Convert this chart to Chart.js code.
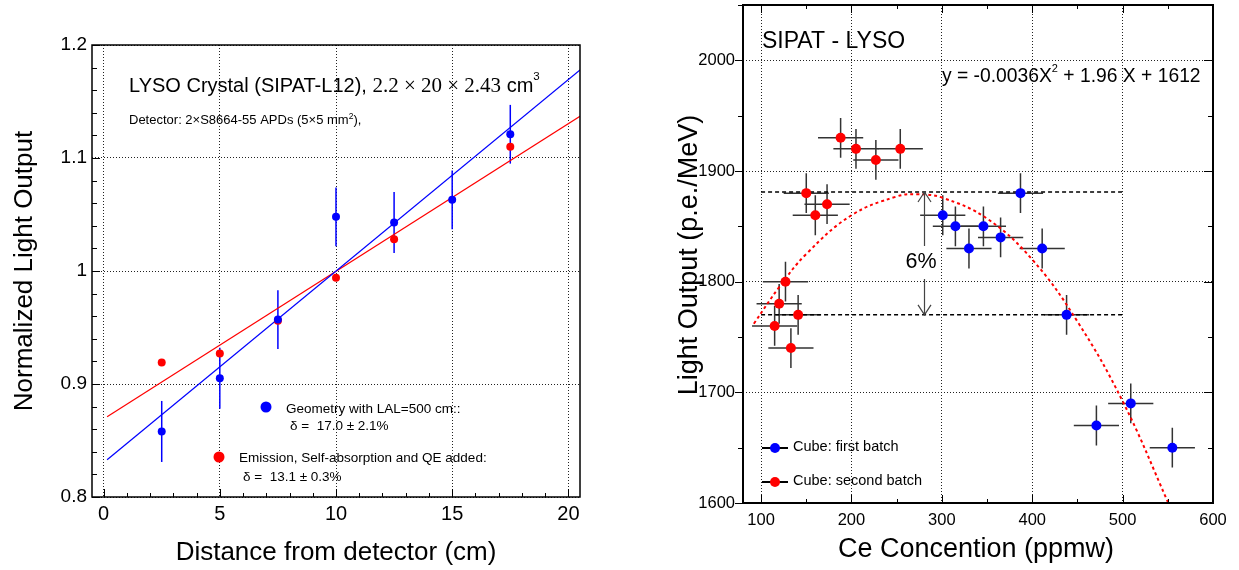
<!DOCTYPE html>
<html>
<head>
<meta charset="utf-8">
<script src="https://cdn.jsdelivr.net/npm/chart.js@4"></script>
<style>
  body { margin: 0; background: #fff; width: 1239px; height: 570px; overflow: hidden; position: relative; }
  .box { position: absolute; top: 0; height: 570px; }
</style>
</head>
<body>
<div class="box" style="left:0;width:620px"><canvas id="left" width="620" height="570"></canvas></div>
<div class="box" style="left:620px;width:619px"><canvas id="right" width="619" height="570"></canvas></div>
<script>
const SANS = '"Liberation Sans", Arial, sans-serif';
const SERIF = '"Liberation Serif", "Times New Roman", serif';

// --- panel izquierdo: light output vs distancia ---
const distCm    = [2.5, 5, 7.5, 10, 12.5, 15, 17.5];
const geomLO    = [0.858, 0.905, 0.957, 1.048, 1.043, 1.063, 1.121];
const geomErr   = [0.027, 0.027, 0.026, 0.026, 0.027, 0.026, 0.026];
const emisDist  = [2.5, 5, 7.5, 10, 12.5, 17.5];
const emisLO    = [0.919, 0.927, 0.956, 0.994, 1.028, 1.110];
const geomFitX  = [0.15, 20.5];
const geomFitY  = [0.833, 1.178];
const emisFitX  = [0.15, 20.5];
const emisFitY  = [0.871, 1.137];
const distTicks = [0, 5, 10, 15, 20];
const normTicks = [0.8, 0.9, 1.0, 1.1, 1.2];

// --- panel derecho: light output vs Ce ---
const batch1Ce  = [301, 315, 330, 346, 365, 387, 411, 438, 471, 509, 555];
const batch1LO  = [1860, 1850, 1830, 1850, 1840, 1880, 1830, 1770, 1670, 1690, 1650];
const batch2Ce  = [115, 120, 127, 133, 141, 150, 160, 173, 188, 205, 227, 254];
const batch2LO  = [1760, 1780, 1800, 1740, 1770, 1880, 1860, 1870, 1930, 1920, 1910, 1920];
const ceErr     = 25;   // ppmw, igual en todos
const loErr     = 18;   // p.e./MeV
const fitCe     = [92, 120, 150, 200, 250, 272, 300, 350, 400, 450, 500, 550, 560];
const fitLO     = [1762, 1795, 1825, 1860, 1877, 1879, 1876, 1857, 1820, 1764, 1692, 1601, 1581];
const bandCe    = [100, 500];
const bandTop   = 1881;
const bandLow   = 1770;
const arrowCe   = 280;
const ceTicks   = [100, 200, 300, 400, 500, 600];
const lightTicks = [1600, 1700, 1800, 1900, 2000];

const pts = (xs, ys) => xs.map((x, i) => ({ x: x, y: ys[i] }));

// texto con varios tramos (fuente distinta / superindice)
function runs(c, x, y, parts) {
  parts.forEach(p => {
    c.font = p[1];
    c.fillText(p[0], x, y + (p[2] || 0));
    x += c.measureText(p[0]).width;
  });
}

// marcas de ticks estilo ROOT
function tickMarks(chart, specs) {
  const c = chart.ctx, a = chart.chartArea;
  c.save();
  c.strokeStyle = '#000';
  c.lineWidth = 1;
  specs.forEach(s => {
    const sc = chart.scales[s.axis];
    for (let v = s.from; v <= s.to + 1e-9; v += s.step) {
      const r = v / s.major;
      const len = Math.abs(r - Math.round(r)) < 1e-6 ? s.big : s.small;
      const p = Math.round(sc.getPixelForValue(v)) + 0.5;
      c.beginPath();
      if (s.side === 'bottom') { c.moveTo(p, a.bottom); c.lineTo(p, a.bottom - s.dir * len); }
      if (s.side === 'top')    { c.moveTo(p, a.top);    c.lineTo(p, a.top + s.dir * len); }
      if (s.side === 'left')   { c.moveTo(a.left, p);   c.lineTo(a.left + s.dir * len, p); }
      if (s.side === 'right')  { c.moveTo(a.right, p);  c.lineTo(a.right - s.dir * len, p); }
      c.stroke();
    }
  });
  c.restore();
}

function frame(chart, w) {
  const c = chart.ctx, a = chart.chartArea;
  c.save();
  c.strokeStyle = '#000';
  c.lineWidth = w;
  c.strokeRect(a.left, a.top, a.right - a.left, a.bottom - a.top);
  c.restore();
}

function axisOpts(min, max, ticks, size, pad, fit) {
  return {
    type: 'linear', min: min, max: max,
    afterBuildTicks: s => { s.ticks = ticks.map(v => ({ value: v })); },
    afterFit: s => {
      fit(s);
      s.paddingTop = 0; s.paddingBottom = 0; s.paddingLeft = 0; s.paddingRight = 0;
    },
    grid: { color: '#222', lineWidth: 1, drawTicks: false },
    border: { display: false, dash: [1, 2] },
    ticks: { color: '#000', padding: pad, font: { family: SANS, size: size }, callback: v => String(v) }
  };
}

const common = {
  responsive: false, animation: false, devicePixelRatio: 1, events: [],
  plugins: { legend: { display: false }, tooltip: { enabled: false } }
};

// ================= grafica izquierda =================
const leftExtras = {
  id: 'leftExtras',
  beforeDatasetsDraw(chart) {
    const c = chart.ctx, sx = chart.scales.x, sy = chart.scales.y;
    c.save();
    c.strokeStyle = '#0000ff';
    c.lineWidth = 1.5;
    distCm.forEach((d, i) => {
      const px = sx.getPixelForValue(d);
      c.beginPath();
      c.moveTo(px, sy.getPixelForValue(geomLO[i] - geomErr[i]));
      c.lineTo(px, sy.getPixelForValue(geomLO[i] + geomErr[i]));
      c.stroke();
    });
    c.restore();
  },
  afterDraw(chart) {
    frame(chart, 1.5);
    tickMarks(chart, [
      { axis: 'x', side: 'bottom', from: 0, to: 20, step: 1, major: 5, dir: 1, big: 8, small: 4 },
      { axis: 'y', side: 'left', from: 0.8, to: 1.2, step: 0.02, major: 0.1, dir: 1, big: 8, small: 5 }
    ]);
    const c = chart.ctx;
    c.save();
    c.fillStyle = '#000';
    c.textAlign = 'left';
    c.textBaseline = 'alphabetic';
    runs(c, 129, 92, [['LYSO Crystal (SIPAT-L12), ', '20px ' + SANS], ['2.2 \u00d7 20 \u00d7 2.43', '21px ' + SERIF],
                      [' cm', '20px ' + SANS], ['3', '11.5px ' + SANS, -12]]);
    runs(c, 129, 124, [['Detector: 2\u00d7S8664-55 APDs (5\u00d75 mm', '13px ' + SANS], ['2', '8.5px ' + SANS, -5],
                       ['),', '13px ' + SANS]]);
    // leyenda
    c.fillStyle = '#0000ff';
    c.beginPath(); c.arc(266, 407, 5.5, 0, Math.PI * 2); c.fill();
    c.fillStyle = '#ff0000';
    c.beginPath(); c.arc(219, 457, 5.5, 0, Math.PI * 2); c.fill();
    c.fillStyle = '#000';
    c.font = '13.5px ' + SANS;
    c.fillText('Geometry with LAL=500 cm::', 286, 413);
    c.fillText('\u03b4 =  17.0 \u00b1 2.1%', 290, 430);
    c.fillText('Emission, Self-absorption and QE added:', 239, 462);
    c.fillText('\u03b4 =  13.1 \u00b1 0.3%', 243, 481);
    // titulos de ejes
    c.font = '26px ' + SANS;
    c.textAlign = 'center';
    c.fillText('Distance from detector (cm)', 336, 560);
    c.translate(32, 271);
    c.rotate(-Math.PI / 2);
    c.fillText('Normalized Light Output', 0, 0);
    c.restore();
  }
};

new Chart(document.getElementById('left'), {
  type: 'scatter',
  data: {
    datasets: [
      { data: pts(distCm, geomLO), pointRadius: 4, pointBackgroundColor: '#0000ff', pointBorderWidth: 0 },
      { data: pts(emisDist, emisLO), pointRadius: 4, pointBackgroundColor: '#ff0000', pointBorderWidth: 0 },
      { data: pts(geomFitX, geomFitY), showLine: true, pointRadius: 0, borderColor: '#0000ff', borderWidth: 1.2 },
      { data: pts(emisFitX, emisFitY), showLine: true, pointRadius: 0, borderColor: '#ff0000', borderWidth: 1.2 }
    ]
  },
  options: Object.assign({}, common, {
    layout: { padding: { top: 45, right: 40, left: 0, bottom: 0 } },
    scales: {
      x: axisOpts(-0.5, 20.5, distTicks, 20, 5, s => { s.height = 73; }),
      y: axisOpts(0.8, 1.2, normTicks, 19, 5, s => { s.width = 92; })
    }
  }),
  plugins: [leftExtras]
});

// ================= grafica derecha =================
const OFF = 620;
const rightExtras = {
  id: 'rightExtras',
  beforeDatasetsDraw(chart) {
    const c = chart.ctx, sx = chart.scales.x, sy = chart.scales.y;
    c.save();
    c.strokeStyle = '#333';
    c.lineWidth = 1.5;
    const bars = (xs, ys) => xs.forEach((x, i) => {
      const px = sx.getPixelForValue(x), py = sy.getPixelForValue(ys[i]);
      c.beginPath();
      c.moveTo(sx.getPixelForValue(x - ceErr), py);
      c.lineTo(sx.getPixelForValue(x + ceErr), py);
      c.moveTo(px, sy.getPixelForValue(ys[i] - loErr));
      c.lineTo(px, sy.getPixelForValue(ys[i] + loErr));
      c.stroke();
    });
    bars(batch1Ce, batch1LO);
    bars(batch2Ce, batch2LO);
    c.restore();
  },
  afterDatasetsDraw(chart) {
    // flecha de 6%
    const c = chart.ctx, sx = chart.scales.x, sy = chart.scales.y;
    const x = Math.round(sx.getPixelForValue(arrowCe)) + 0.5;
    const yT = sy.getPixelForValue(bandTop), yB = sy.getPixelForValue(bandLow);
    c.save();
    c.strokeStyle = '#444';
    c.lineWidth = 1.2;
    c.beginPath();
    c.moveTo(x, yT); c.lineTo(x, 246);
    c.moveTo(x, 279); c.lineTo(x, yB);
    c.moveTo(x - 6.5, yT + 10); c.lineTo(x, yT); c.lineTo(x + 6.5, yT + 10);
    c.moveTo(x - 6.5, yB - 10); c.lineTo(x, yB); c.lineTo(x + 6.5, yB - 10);
    c.stroke();
    c.restore();
  },
  afterDraw(chart) {
    frame(chart, 2);
    tickMarks(chart, [
      { axis: 'x', side: 'bottom', from: 100, to: 600, step: 50, major: 100, dir: 1, big: 8, small: 4 },
      { axis: 'x', side: 'top', from: 100, to: 600, step: 50, major: 100, dir: 1, big: 8, small: 4 },
      { axis: 'y', side: 'left', from: 1600, to: 2050, step: 50, major: 100, dir: -1, big: 8, small: 5 },
      { axis: 'y', side: 'right', from: 1600, to: 2050, step: 50, major: 100, dir: 1, big: 9, small: 5 }
    ]);
    const c = chart.ctx;
    c.save();
    c.fillStyle = '#000';
    c.textAlign = 'left';
    c.textBaseline = 'alphabetic';
    c.font = '23px ' + SANS;
    c.fillText('SIPAT - LYSO', 762 - OFF, 48);
    runs(c, 942 - OFF, 82, [['y = -0.0036X', '19.3px ' + SANS], ['2', '11px ' + SANS, -10],
                            [' + 1.96 X + 1612', '19.3px ' + SANS]]);
    c.font = '21.5px ' + SANS;
    c.textAlign = 'center';
    c.fillText('6%', 921 - OFF, 268);
    // leyenda
    c.strokeStyle = '#000';
    c.lineWidth = 2;
    [[448, '#0000ff', 'Cube: first batch', 451], [482, '#ff0000', 'Cube: second batch', 485]].forEach(l => {
      c.beginPath(); c.moveTo(762 - OFF, l[0]); c.lineTo(788 - OFF, l[0]); c.stroke();
      c.fillStyle = l[1];
      c.beginPath(); c.arc(775 - OFF, l[0], 5, 0, Math.PI * 2); c.fill();
      c.fillStyle = '#000';
      c.font = '14.5px ' + SANS;
      c.textAlign = 'left';
      c.fillText(l[2], 793 - OFF, l[3]);
    });
    // titulos de ejes
    c.font = '27px ' + SANS;
    c.textAlign = 'center';
    c.fillText('Ce Concention (ppmw)', 976 - OFF, 557);
    c.translate(697 - OFF, 255);
    c.rotate(-Math.PI / 2);
    c.fillText('Light Output (p.e./MeV)', 0, 0);
    c.restore();
  }
};

new Chart(document.getElementById('right'), {
  type: 'scatter',
  data: {
    datasets: [
      { data: pts(batch1Ce, batch1LO), pointRadius: 5, pointBackgroundColor: '#0000ff', pointBorderWidth: 0 },
      { data: pts(batch2Ce, batch2LO), pointRadius: 5, pointBackgroundColor: '#ff0000', pointBorderWidth: 0 },
      { data: pts(fitCe, fitLO), showLine: true, pointRadius: 0, tension: 0.4, borderColor: '#ff0000',
        borderWidth: 2, borderDash: [3, 3] },
      { data: pts(bandCe, [bandTop, bandTop]), showLine: true, pointRadius: 0, borderColor: '#000',
        borderWidth: 1.5, borderDash: [4, 3] },
      { data: pts(bandCe, [bandLow, bandLow]), showLine: true, pointRadius: 0, borderColor: '#000',
        borderWidth: 1.5, borderDash: [4, 3] }
    ]
  },
  options: Object.assign({}, common, {
    layout: { padding: { top: 3, right: 26, left: 0, bottom: 0 } },
    scales: {
      x: axisOpts(80, 600, ceTicks, 16.5, 8, s => { s.height = 67; }),
      y: axisOpts(1600, 2050, lightTicks, 16.5, 8, s => { s.width = 123; })
    }
  }),
  plugins: [rightExtras]
});
</script>
</body>
</html>
